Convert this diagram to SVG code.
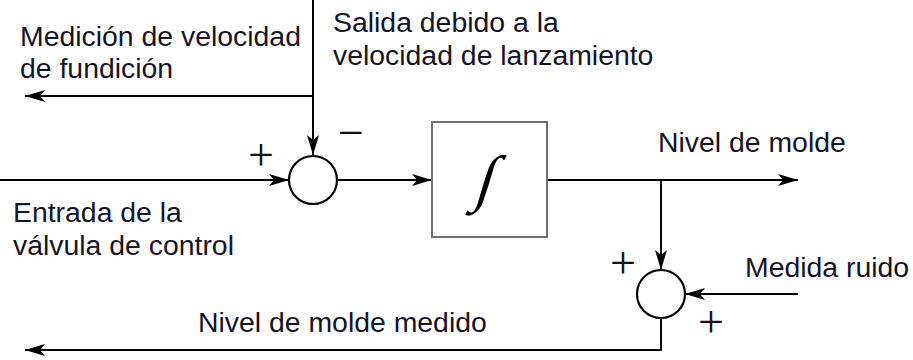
<svg xmlns="http://www.w3.org/2000/svg" width="913" height="360" viewBox="0 0 913 360">
  <style>
    .lbl { font-family: "Liberation Sans", Arial, sans-serif; font-size: 28.4px; fill: #141428; }
    .sgn { font-family: "Liberation Serif", "Times New Roman", serif; font-size: 46px; fill: #111; text-anchor: middle; }
    .wire { fill: none; stroke: #000; stroke-width: 2; }
    .sum { fill: #fff; stroke: #000; stroke-width: 2.2; }
    .blk { fill: #fff; stroke: #707070; stroke-width: 2; }
  </style>
  <defs>
    <marker id="arr" markerUnits="userSpaceOnUse" markerWidth="22" markerHeight="14" refX="20" refY="6" orient="auto">
      <path d="M0,0 L20,6 L0,12 L5,6 z" fill="#000"/>
    </marker>
  </defs>

  <g id="connectors">
    <path class="wire" d="M313,0 L313,155" marker-end="url(#arr)"/>
    <path class="wire" d="M313,96 L25,96" marker-end="url(#arr)"/>
    <path class="wire" d="M0,180 L289,180" marker-end="url(#arr)"/>
    <path class="wire" d="M337,180 L432,180" marker-end="url(#arr)"/>
    <path class="wire" d="M547,180 L798,180" marker-end="url(#arr)"/>
    <path class="wire" d="M661,180 L661,270" marker-end="url(#arr)"/>
    <path class="wire" d="M798,294 L685,294" marker-end="url(#arr)"/>
    <path class="wire" d="M661,318 L661,350 L25,350" marker-end="url(#arr)"/>
  </g>

  <g id="sum1">
    <circle class="sum" cx="313" cy="180" r="24"/>
    <text class="sgn" x="261" y="170">+</text>
    <text class="sgn" x="351" y="148">−</text>
  </g>

  <g id="integrator">
    <rect class="blk" x="432" y="122" width="115" height="115"/>
    <text transform="translate(487,182) skewX(-17)" x="0" y="17" font-family="'Liberation Serif', 'Times New Roman', serif" font-size="62" text-anchor="middle" fill="#000">∫</text>
  </g>

  <g id="sum2">
    <circle class="sum" cx="661" cy="294" r="24"/>
    <text class="sgn" x="623" y="278">+</text>
    <text class="sgn" x="711" y="337">+</text>
  </g>

  <g id="labels">
    <text class="lbl" x="20" y="46">Medición de velocidad</text>
    <text class="lbl" x="20" y="78">de fundición</text>
    <text class="lbl" x="333" y="32">Salida debido a la</text>
    <text class="lbl" x="333" y="65">velocidad de lanzamiento</text>
    <text class="lbl" x="13" y="222">Entrada de la</text>
    <text class="lbl" x="13" y="255">válvula de control</text>
    <text class="lbl" x="658" y="152">Nivel de molde</text>
    <text class="lbl" x="745" y="277">Medida ruido</text>
    <text class="lbl" x="198" y="332">Nivel de molde medido</text>
  </g>
</svg>
